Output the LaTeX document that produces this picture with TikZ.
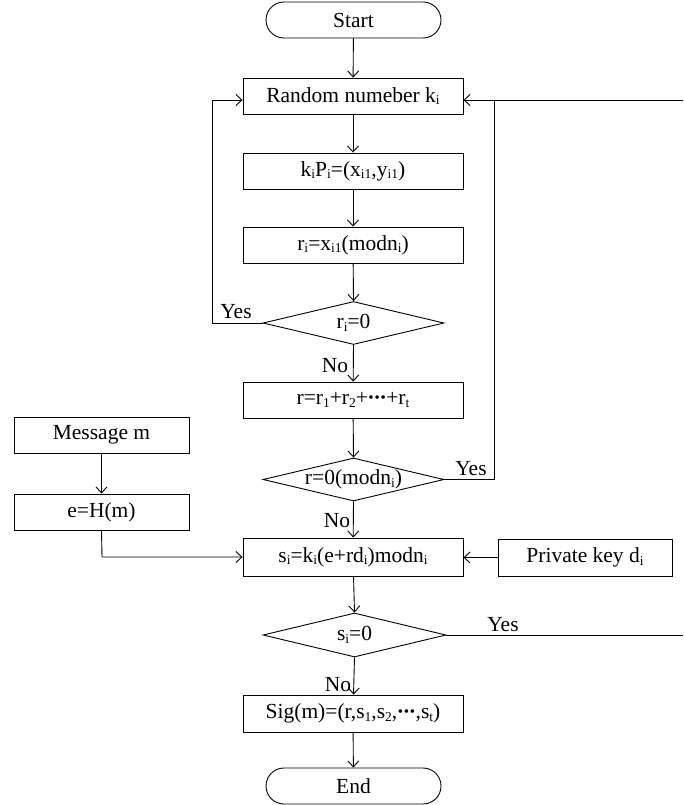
\documentclass[tikz,border=0pt]{standalone}
\usepackage{fontspec}
\setmainfont{Liberation Serif}
\usetikzlibrary{shapes.geometric,arrows.meta}
\newcommand\sbx[1]{\raisebox{-0.25ex}{\fontsize{13.5}{14}\selectfont #1}}
\newcommand\dts{\raisebox{0.2ex}{\fontsize{15}{15}\selectfont\kern0.5pt\textbullet\kern0.8pt\textbullet\kern0.8pt\textbullet\kern0.5pt}}
\begin{document}
\begin{tikzpicture}[x=1pt,y=-1pt,
  every node/.style={font=\fontsize{21.5}{25}\selectfont},
  box/.style={draw,line width=0.9pt,rectangle,minimum width=220pt,minimum height=36pt,inner sep=0pt},
  sidebox/.style={draw,line width=0.9pt,rectangle,minimum width=175pt,minimum height=36pt,inner sep=0pt},
  term/.style={draw,line width=0.9pt,rectangle,rounded corners=18pt,minimum width=175pt,minimum height=36pt,inner sep=0pt},
  dec/.style={draw,line width=0.9pt,diamond,minimum width=181pt,minimum height=43pt,inner sep=0pt,aspect=4.2},
  lbl/.style={inner sep=0pt},
  conn/.style={line width=0.9pt},
  arr/.style={conn,-{Straight Barb[length=6pt,width=11pt]}}]
\useasboundingbox (0,0) rectangle (683,805);

\node[term] (start) at (353.5,20) {Start};
\node[box] (rand) at (353,96) {Random numeber k\sbx{i}};
\node[box] (kp) at (353,171) {k\sbx{i}P\sbx{i}=(x\sbx{i1},y\sbx{i1})};
\node[box] (ri) at (353,245) {r\sbx{i}=x\sbx{i1}(modn\sbx{i})};
\node[dec] (d1) at (353.5,323) {r\sbx{i}=0};
\node[box] (rs) at (353,400) {r=r\sbx{1}+r\sbx{2}+\dts+r\sbx{t}};
\node[dec] (d2) at (353.5,479.5) {r=0(modn\sbx{i})};
\node[box,minimum height=38pt] (si) at (353,557) {s\sbx{i}=k\sbx{i}(e+rd\sbx{i})modn\sbx{i}};
\node[dec,minimum width=183pt,minimum height=44pt] (d3) at (354.5,635) {s\sbx{i}=0};
\node[box,minimum height=37pt] (sig) at (353,713.5) {Sig(m)=(r,s\sbx{1},s\sbx{2},\dts,s\sbx{t})};
\node[term] (end) at (353.5,786) {End};

\node[sidebox] (msg) at (101.5,435) {Message m};
\node[sidebox] (hash) at (101.5,512) {e=H(m)};
\node[sidebox,minimum width=174pt,minimum height=37pt] (pk) at (585,557.5) {Private key d\sbx{i}};

\coordinate (lc1) at (212,323);
\coordinate (lc2) at (212,100);
\coordinate (rc0) at (683,100);
\coordinate (rc1) at (494,479.5);
\coordinate (rc2) at (494,100);
\coordinate (hc) at (102,557);
\coordinate (yc) at (683,635);

\draw[arr] (start) -- (rand);
\draw[arr] (rand) -- (kp);
\draw[arr] (kp) -- (ri);
\draw[arr] (ri) -- (d1.north);
\draw[arr] (d1.south) -- (rs);
\draw[arr] (rs) -- (d2.north);
\draw[arr] (d2.south) -- (si);
\draw[arr] (si) -- (d3.north);
\draw[arr] (d3.south) -- (sig);
\draw[arr] (sig) -- (end);

\draw[arr] (d1.west) -- (lc1) -- (lc2) -- (rand.west |- lc2);
\draw[arr] (rc0) -- (rand.east |- rc0);
\draw[conn] (d2.east) -- (rc1) -- (rc2);
\draw[arr] (msg) -- (hash);
\draw[arr] (hash.south) -- (hc) -- (si.west |- hc);
\draw[arr] (pk.west) -- (si.east |- pk.west);
\draw[conn] (d3.east) -- (yc);

\node[lbl] (y1) at (236,312) {Yes};
\node[lbl] (n1) at (335,366) {No};
\node[lbl] (y2) at (471,469) {Yes};
\node[lbl] (n2) at (337,521) {No};
\node[lbl] (y3) at (503,625) {Yes};
\node[lbl] (n3) at (338,685) {No};
\end{tikzpicture}
\end{document}
